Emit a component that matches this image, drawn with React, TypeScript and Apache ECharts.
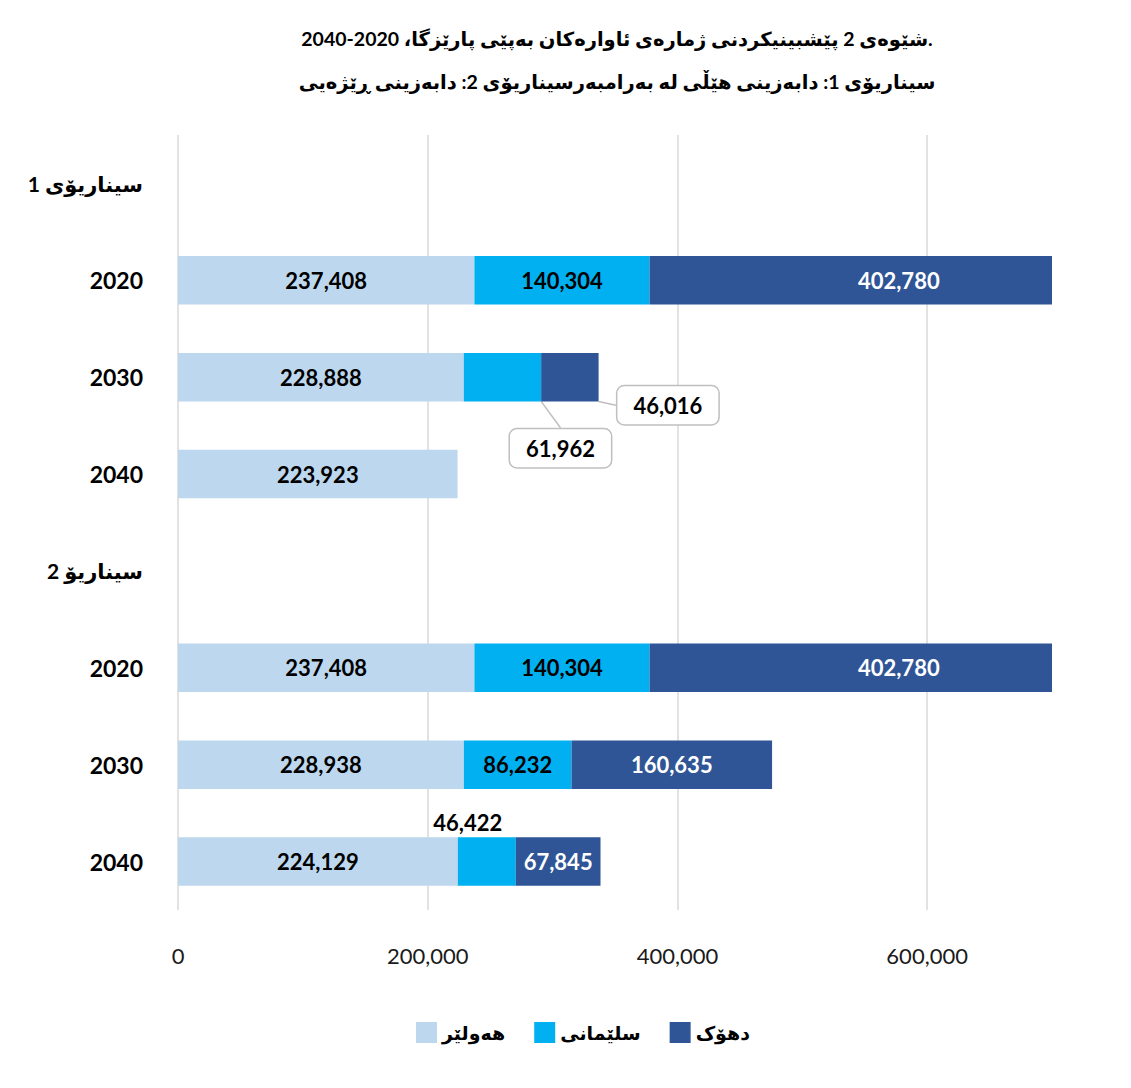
import React, { useEffect, useRef } from 'react';
import * as echarts from 'echarts';

const categories = ['سیناریۆی 1', '2020', '2030', '2040', 'سیناریۆ 2', '2020', '2030', '2040'];
const headerCategoryIndexes = [0, 4];
const seriesNames = ['هەولێر', 'سلێمانی', 'دهۆک'];
const hawler = [null, 237408, 228888, 223923, null, 237408, 228938, 224129];
const sulaimani = [null, 140304, 61962, null, null, 140304, 86232, 46422];
const dohuk = [null, 402780, 46016, null, null, 402780, 160635, 67845];
const titleLines = [
  '.شێوەی 2 پێشبینیکردنی ژمارەی ئاوارەکان بەپێی پارێزگا، 2020-2040',
  'سیناریۆی 1: دابەزینی هێڵی لە بەرامبەرسیناریۆی 2: دابەزینی ڕێژەیی',
];
const xMin = 0;
const xMax = 700000;
const xInterval = 200000;
const colors = ['#BDD7EE', '#00B0F0', '#2F5597'];

const FONT = "Lato, 'DejaVu Sans', 'Noto Sans', sans-serif";

const calloutLabel = {
  color: '#000',
  backgroundColor: '#fff',
  borderColor: '#bfbfbf',
  borderWidth: 1.5,
  borderRadius: 7,
  padding: [9, 16, 7, 16],
};
const calloutLine = { show: true, lineStyle: { color: '#bfbfbf', width: 1.5 } };

export default function App() {
  const ref = useRef<HTMLDivElement>(null);
  useEffect(() => {
    if (!ref.current) return;
    const chart = echarts.init(ref.current, null, { renderer: 'svg' });
    const fmt = (p: any) => (p.value == null ? '' : Number(p.value).toLocaleString('en-US'));

    const hawlerData = hawler.map((v) => ({ value: v }));
    const sulData = sulaimani.map((v, i) => {
      if (i === 2) return { value: v, label: calloutLabel, labelLine: calloutLine };
      if (i === 7) return { value: v, label: { position: 'top', distance: 4 } };
      return { value: v };
    });
    const dohukData = dohuk.map((v, i) => {
      if (i === 2) return { value: v, label: calloutLabel, labelLine: calloutLine };
      return { value: v };
    });

    const baseLabel = {
      show: true,
      position: 'inside',
      formatter: fmt,
      fontFamily: FONT,
      fontSize: 22,
      fontWeight: 'bold',
    };

    const yData = categories.map((c, i) =>
      headerCategoryIndexes.includes(i) ? { value: c, textStyle: { fontSize: 21 } } : c
    );

    chart.setOption({
      animation: false,
      backgroundColor: '#fff',
      title: {
        text: titleLines.map((t) => '\u202B' + t + '\u202C').join('\n'),
        left: 612,
        top: 12,
        textAlign: 'center',
        textStyle: { fontFamily: FONT, fontSize: 19.5, fontWeight: 'bold', lineHeight: 43, color: '#000' },
      },
      legend: {
        data: seriesNames,
        left: 416,
        top: 1022,
        padding: 0,
        itemWidth: 21,
        itemHeight: 21,
        itemGap: 29,
        icon: 'rect',
        textStyle: { fontFamily: FONT, fontSize: 19, fontWeight: 'bold', color: '#000' },
      },
      grid: { left: 178, right: 79, top: 135, bottom: 178, containLabel: false },
      xAxis: {
        type: 'value',
        min: xMin,
        max: xMax,
        interval: xInterval,
        axisLine: { show: false },
        axisTick: { show: false },
        axisLabel: {
          showMaxLabel: false,
          margin: 34,
          fontFamily: FONT,
          fontSize: 22,
          color: '#1a1a1a',
          formatter: (v: number) => v.toLocaleString('en-US'),
        },
        splitLine: {
          show: true,
          showMaxLine: false,
          lineStyle: { color: ['#d9d9d9', '#d9d9d9', '#d9d9d9', '#d9d9d9', 'rgba(0,0,0,0)'], width: 1.5 },
        },
      },
      yAxis: {
        type: 'category',
        data: yData,
        inverse: true,
        axisLine: { show: false },
        axisTick: { show: false },
        axisLabel: {
          margin: 35,
          fontFamily: FONT,
          fontSize: 23,
          fontWeight: 'bold',
          color: '#000',
        },
      },
      series: [
        {
          name: seriesNames[0],
          type: 'bar',
          stack: 'total',
          barWidth: '50%',
          itemStyle: { color: colors[0] },
          label: { ...baseLabel, color: '#000' },
          data: hawlerData,
        },
        {
          name: seriesNames[1],
          type: 'bar',
          stack: 'total',
          barWidth: '50%',
          itemStyle: { color: colors[1] },
          label: { ...baseLabel, color: '#000' },
          labelLayout: (p: any) =>
            p.dataIndex === 2 ? { dx: 58, dy: 71 } : p.dataIndex === 7 ? { dx: -19 } : {},
          data: sulData,
        },
        {
          name: seriesNames[2],
          type: 'bar',
          stack: 'total',
          barWidth: '50%',
          itemStyle: { color: colors[2] },
          label: { ...baseLabel, color: '#fff' },
          labelLayout: (p: any) =>
            p.dataIndex === 2 ? { dx: 98, dy: 28 } : p.dataIndex === 1 || p.dataIndex === 5 ? { dx: 48 } : {},
          data: dohukData,
        },
      ],
    });
    return () => chart.dispose();
  }, []);

  return (
    <div style={{ position: 'fixed', left: 0, top: 0, width: 1131, height: 1088, background: '#fff' }}>
      <div
        style={{
          position: 'absolute',
          left: 7,
          top: 9,
          width: 1140,
          height: 1100,
          border: '1.5px solid #d9d9d9',
          boxSizing: 'border-box',
        }}
      />
      <div ref={ref} style={{ position: 'absolute', left: 0, top: 0, width: 1131, height: 1088 }} />
    </div>
  );
}
